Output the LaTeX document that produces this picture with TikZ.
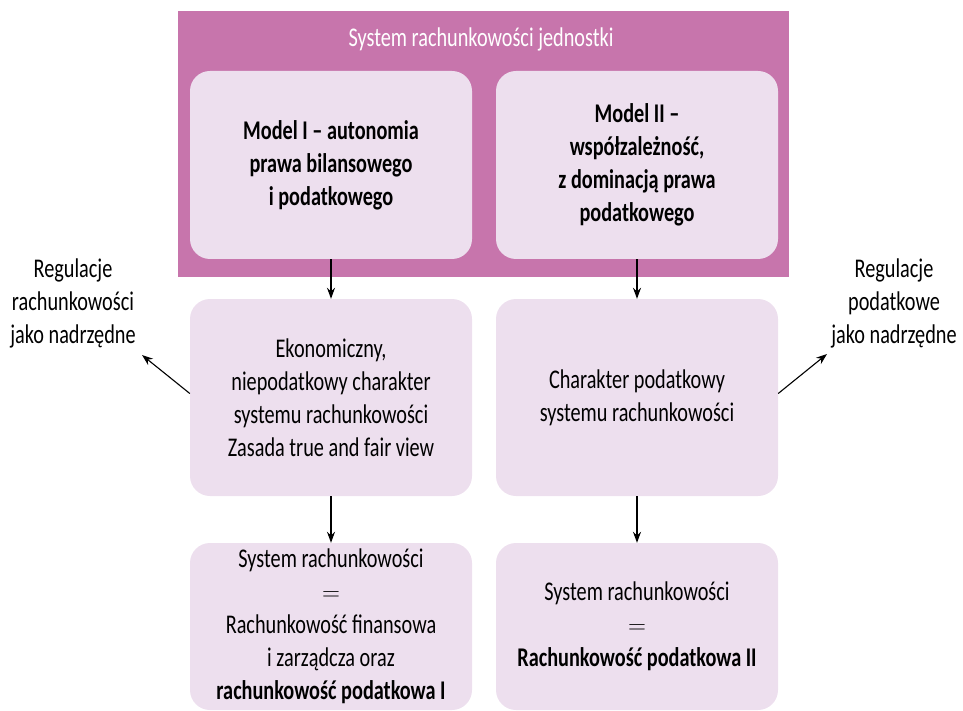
\documentclass[tikz,border=0pt]{standalone}
\usepackage{fontspec}
\setmainfont{Carlito}[FakeStretch=0.75]
\usepackage{tikz}
\usetikzlibrary{arrows.meta}
\definecolor{bannerpink}{RGB}{199,117,172}
\definecolor{boxpink}{RGB}{237,223,238}
\tikzset{
	box/.style={rounded corners=20pt,fill=boxpink,minimum width=282pt,minimum height=#1,align=center,inner sep=0pt},
	box/.default=188pt,
	txt/.style={font=\fontsize{27}{33}\selectfont},
	link/.style={-{Stealth[length=11pt,width=8pt]},line width=1.1pt}
}
\begin{document}
\begin{tikzpicture}[x=1pt,y=-1pt,txt]
	\useasboundingbox (0,0) rectangle (963,711);
	%BANNER
	\fill[bannerpink] (178,11) rectangle (789,277);
	\node[white,anchor=base] (title) at (481,47) {System rachunkowości jednostki};
	%
	\node[box] (model1) at (331,165) {\bfseries Model I – autonomia\\ \bfseries prawa bilansowego\\ \bfseries i podatkowego};
	\node[box] (model2) at (637,165) {\bfseries Model II –\\ \bfseries współzależność,\\ \bfseries z dominacją prawa\\ \bfseries podatkowego};
	
	%MIDDLE ROW
	\node[box=197pt] (econ) at (331,397.5) {Ekonomiczny,\\ niepodatkowy charakter\\ systemu rachunkowości\\ Zasada true and fair view};
	\node[box=197pt] (tax) at (637,397.5) {Charakter podatkowy\\ systemu rachunkowości};
	
	%BOTTOM ROW
	\node[box=167pt] (sys1) at (331,626.5) {System rachunkowości\\ $=$\\ Rachunkowość finansowa\\ i zarządcza oraz\\ \bfseries rachunkowość podatkowa I};
	\node[box=167pt] (sys2) at (637,626.5) {System rachunkowości\\ $=$\\ \bfseries Rachunkowość podatkowa II};
	
	%SIDE LABELS
	\node[align=center] (regl) at (73,303) {Regulacje\\ rachunkowości\\ jako nadrzędne};
	\node[align=center] (regp) at (894,303) {Regulacje\\ podatkowe\\ jako nadrzędne};
	\coordinate (regl tip) at (142,355);
	\coordinate (regp tip) at (827,354);
	
	%ARROWS
	\draw[link] (model1) -- (econ);
	\draw[link] (model2) -- (tax);
	\draw[link] (econ) -- (sys1);
	\draw[link] (tax) -- (sys2);
	\draw[link] ([yshift=4pt]econ.west) -- (regl tip);
	\draw[link] ([yshift=4pt]tax.east) -- (regp tip);
\end{tikzpicture}
\end{document}
